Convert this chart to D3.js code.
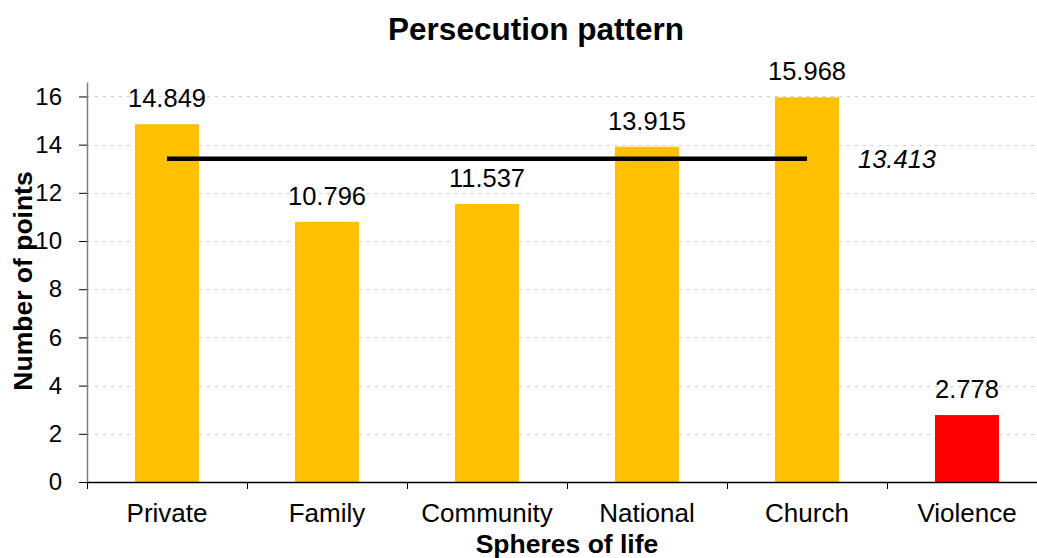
<!DOCTYPE html>
<html>
<head>
<meta charset="utf-8">
<script src="https://cdn.jsdelivr.net/npm/d3@7"></script>
<style>
  body { margin: 0; background: #fff; }
  svg { font-family: "Liberation Sans", Arial, sans-serif; }
</style>
</head>
<body>
<script>
var categories = ["Private", "Family", "Community", "National", "Church", "Violence"];
var values = [14.849, 10.796, 11.537, 13.915, 15.968, 2.778];
var colours = ["#FFC000", "#FFC000", "#FFC000", "#FFC000", "#FFC000", "#FF0000"];
var meanValue = 13.413;
var meanFrom = "Private", meanTo = "Church";
var yTicks = [0, 2, 4, 6, 8, 10, 12, 14, 16];

var w = 1037, h = 558;
var plotLeft = 87, plotRight = 1047, plotTop = 82, plotBottom = 482;

var svg = d3.select("body").append("svg")
    .attr("width", w)
    .attr("height", h);

var xScale = d3.scaleBand()
    .domain(categories)
    .range([plotLeft, plotRight]);

var yScale = d3.scaleLinear()
    .domain([0, 16.6])
    .range([plotBottom, plotTop]);

// gridlines
svg.append("g")
    .selectAll("line")
    .data(yTicks.slice(1))
    .enter()
    .append("line")
    .attr("x1", plotLeft)
    .attr("x2", w)
    .attr("y1", function(d) { return Math.round(yScale(d)) + 0.5; })
    .attr("y2", function(d) { return Math.round(yScale(d)) + 0.5; })
    .attr("stroke", "#d0d0d0")
    .attr("stroke-width", 1)
    .attr("stroke-dasharray", "3,5");

// bars
var barW = xScale.bandwidth() * 0.4;
svg.selectAll("rect.bar")
    .data(values)
    .enter()
    .append("rect")
    .attr("class", "bar")
    .attr("x", function(d, i) { return xScale(categories[i]) + (xScale.bandwidth() - barW) / 2; })
    .attr("width", barW)
    .attr("y", function(d) { return yScale(d); })
    .attr("height", function(d) { return plotBottom - yScale(d); })
    .attr("fill", function(d, i) { return colours[i]; });

// value labels
svg.selectAll("text.val")
    .data(values)
    .enter()
    .append("text")
    .attr("class", "val")
    .attr("x", function(d, i) { return xScale(categories[i]) + xScale.bandwidth() / 2; })
    .attr("y", function(d) { return yScale(d) - 17; })
    .attr("text-anchor", "middle")
    .attr("font-size", "25.5px")
    .text(function(d) { return d3.format(".3f")(d); });

// mean line
var mx1 = xScale(meanFrom) + xScale.bandwidth() / 2;
var mx2 = xScale(meanTo) + xScale.bandwidth() / 2;
svg.append("line")
    .attr("x1", mx1)
    .attr("x2", mx2)
    .attr("y1", yScale(meanValue))
    .attr("y2", yScale(meanValue))
    .attr("stroke", "#000")
    .attr("stroke-width", 4.5);
svg.append("text")
    .attr("x", mx2 + 51)
    .attr("y", yScale(meanValue) + 9)
    .attr("font-size", "25.5px")
    .attr("font-style", "italic")
    .text(d3.format(".3f")(meanValue));

// y axis
var yAxis = d3.axisLeft(yScale)
    .tickValues(yTicks)
    .tickSize(8)
    .tickPadding(17)
    .tickSizeOuter(0);
var gy = svg.append("g")
    .attr("transform", "translate(" + plotLeft + ",0)")
    .call(yAxis);
gy.select(".domain").attr("stroke", "#808080").attr("stroke-width", 1.5);
gy.selectAll(".tick line").attr("stroke", "#000");
gy.selectAll(".tick text").attr("font-size", "24px").attr("fill", "#000")
    .attr("font-family", "Liberation Sans, Arial, sans-serif");

// x axis: labels
var xAxis = d3.axisBottom(xScale)
    .tickSize(0)
    .tickPadding(22)
    .tickSizeOuter(0);
var gx = svg.append("g")
    .attr("transform", "translate(0," + plotBottom + ")")
    .call(xAxis);
gx.select(".domain").attr("stroke", "#000").attr("stroke-width", 1.5);
gx.selectAll(".tick text").attr("font-size", "26px").attr("fill", "#000")
    .attr("font-family", "Liberation Sans, Arial, sans-serif");

// x axis: band boundary ticks
var edges = d3.scaleLinear().domain([0, categories.length]).range([plotLeft, plotRight]);
var gEdges = svg.append("g")
    .attr("transform", "translate(0," + plotBottom + ")")
    .call(d3.axisBottom(edges).ticks(categories.length).tickSize(7).tickFormat(""));
gEdges.select(".domain").remove();
gEdges.selectAll(".tick line").attr("stroke", "#000");

// titles
svg.append("text")
    .attr("x", 536)
    .attr("y", 40)
    .attr("text-anchor", "middle")
    .attr("font-size", "31.5px")
    .attr("font-weight", "bold")
    .text("Persecution pattern");

svg.append("text")
    .attr("x", 567)
    .attr("y", 553)
    .attr("text-anchor", "middle")
    .attr("font-size", "26.5px")
    .attr("font-weight", "bold")
    .text("Spheres of life");

svg.append("text")
    .attr("transform", "translate(32,281) rotate(-90)")
    .attr("text-anchor", "middle")
    .attr("font-size", "26.5px")
    .attr("font-weight", "bold")
    .text("Number of points");
</script>
</body>
</html>
